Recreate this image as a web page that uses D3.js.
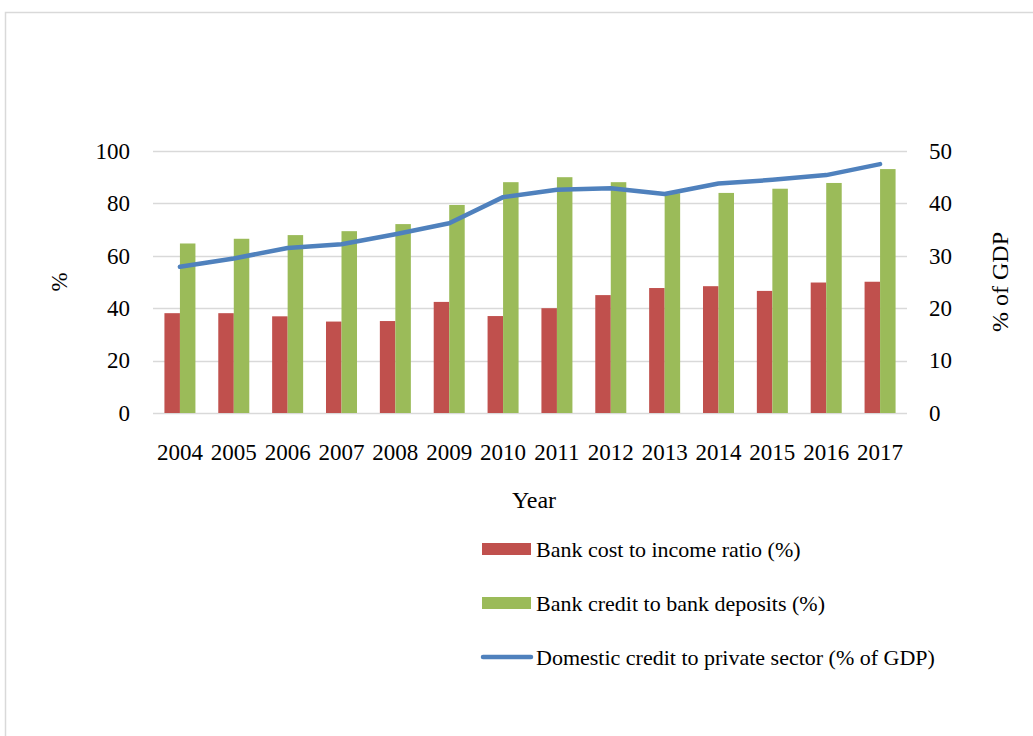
<!DOCTYPE html>
<html>
<head>
<meta charset="utf-8">
<script src="https://cdn.jsdelivr.net/npm/d3@7"></script>
<style>
    html, body { margin: 0; padding: 0; background: #fff; }
    svg { display: block; font-family: "Liberation Serif", "Times New Roman", serif; }
</style>
</head>
<body>
<div id="chart"></div>
<script>
const years = ["2004", "2005", "2006", "2007", "2008", "2009", "2010",
               "2011", "2012", "2013", "2014", "2015", "2016", "2017"];

// left axis (%)
const costToIncome = [38.1, 38.1, 36.9, 34.9, 35.1, 42.4, 37.0,
                      40.0, 45.0, 47.7, 48.4, 46.6, 49.8, 50.1];
const creditToDeposits = [64.7, 66.5, 67.9, 69.4, 72.1, 79.4, 88.1,
                          90.0, 88.1, 83.9, 84.0, 85.6, 87.8, 93.1];

// right axis (% of GDP)
const domesticCredit = [27.9, 29.5, 31.5, 32.2, 34.1, 36.2, 41.2,
                        42.6, 42.9, 41.8, 43.8, 44.5, 45.4, 47.5];

const leftTicks = [0, 20, 40, 60, 80, 100];
const rightTicks = [0, 10, 20, 30, 40, 50];

const legendItems = [
    { label: "Bank cost to income ratio (%)", type: "bar", color: "#c0504d" },
    { label: "Bank credit to bank deposits (%)", type: "bar", color: "#9bbb59" },
    { label: "Domestic credit to private sector (% of GDP)", type: "line", color: "#4f81bd" },
];

const width = 1033, height = 736;
const plot = { left: 153, right: 907, top: 151, bottom: 413 };

const svg = d3.select("#chart")
    .append("svg")
    .attr("width", width)
    .attr("height", height);

// outer frame (chart area border, runs off the page)
svg.append("rect")
    .attr("x", 5.5).attr("y", 12.5)
    .attr("width", 1200).attr("height", 900)
    .attr("fill", "none")
    .attr("stroke", "#d9d9d9")
    .attr("stroke-width", 1.5);

const x = d3.scaleBand()
    .domain(years)
    .range([plot.left, plot.right])
    .padding(0);

const xs = d3.scaleBand()
    .domain(["cost", "credit"])
    .range([0, x.bandwidth()])
    .paddingInner(0)
    .paddingOuter(0.737);

const y = d3.scaleLinear().domain([0, 100]).range([plot.bottom, plot.top]);
const y2 = d3.scaleLinear().domain([0, 50]).range([plot.bottom, plot.top]);

/* gridlines */
svg.append("g")
    .selectAll("line")
    .data(leftTicks)
    .join("line")
    .attr("x1", plot.left).attr("x2", plot.right)
    .attr("y1", d => Math.round(y(d)) + 0.5)
    .attr("y2", d => Math.round(y(d)) + 0.5)
    .attr("stroke", "#d9d9d9")
    .attr("stroke-width", 1.5);

/* bars */
const rows = years.map((yr, i) => ({
    year: yr,
    cost: costToIncome[i],
    credit: creditToDeposits[i],
    gdp: domesticCredit[i],
}));

const gBars = svg.append("g");
gBars.selectAll("rect.cost")
    .data(rows)
    .join("rect")
    .attr("class", "cost")
    .attr("x", d => x(d.year) + xs("cost"))
    .attr("width", xs.bandwidth())
    .attr("y", d => y(d.cost))
    .attr("height", d => y(0) - y(d.cost))
    .attr("fill", legendItems[0].color);

gBars.selectAll("rect.credit")
    .data(rows)
    .join("rect")
    .attr("class", "credit")
    .attr("x", d => x(d.year) + xs("credit"))
    .attr("width", xs.bandwidth())
    .attr("y", d => y(d.credit))
    .attr("height", d => y(0) - y(d.credit))
    .attr("fill", legendItems[1].color);

/* line on right axis */
const line = d3.line()
    .x(d => x(d.year) + x.bandwidth() / 2)
    .y(d => y2(d.gdp));

svg.append("path")
    .datum(rows)
    .attr("d", line)
    .attr("fill", "none")
    .attr("stroke", legendItems[2].color)
    .attr("stroke-width", 4.5)
    .attr("stroke-linecap", "round")
    .attr("stroke-linejoin", "round");

/* axes */
const fontSize = 23;

const leftAxis = svg.append("g")
    .attr("transform", `translate(${plot.left},0)`)
    .call(d3.axisLeft(y).tickValues(leftTicks).tickSize(0).tickPadding(23));
leftAxis.select(".domain").remove();

const rightAxis = svg.append("g")
    .attr("transform", `translate(${plot.right},0)`)
    .call(d3.axisRight(y2).tickValues(rightTicks).tickSize(0).tickPadding(22));
rightAxis.select(".domain").remove();

const bottomAxis = svg.append("g")
    .attr("transform", `translate(0,${plot.bottom})`)
    .call(d3.axisBottom(x).tickSize(0).tickPadding(31));
bottomAxis.select(".domain").remove();

svg.selectAll(".tick text")
    .attr("font-family", "Liberation Serif, Times New Roman, serif")
    .attr("font-size", fontSize)
    .attr("fill", "#000");

/* axis titles */
svg.append("text")
    .attr("transform", "translate(67,282) rotate(-90)")
    .attr("text-anchor", "middle")
    .attr("font-size", 23)
    .text("%");

svg.append("text")
    .attr("transform", "translate(1008,282) rotate(-90)")
    .attr("text-anchor", "middle")
    .attr("font-size", 24)
    .text("% of GDP");

svg.append("text")
    .attr("x", 534)
    .attr("y", 508)
    .attr("text-anchor", "middle")
    .attr("font-size", 24)
    .text("Year");

/* legend */
const legend = svg.append("g");
const legendRow = legend.selectAll("g")
    .data(legendItems)
    .join("g")
    .attr("transform", (d, i) => `translate(482,${549 + i * 54})`);

legendRow.filter(d => d.type === "bar")
    .append("rect")
    .attr("x", 0).attr("y", -6)
    .attr("width", 49).attr("height", 12)
    .attr("fill", d => d.color);

legendRow.filter(d => d.type === "line")
    .append("line")
    .attr("x1", 1).attr("x2", 49)
    .attr("y1", 0).attr("y2", 0)
    .attr("stroke", d => d.color)
    .attr("stroke-width", 4.5)
    .attr("stroke-linecap", "round");

legendRow.append("text")
    .attr("x", 54)
    .attr("y", 8)
    .attr("font-size", 22)
    .text(d => d.label);
</script>
</body>
</html>
